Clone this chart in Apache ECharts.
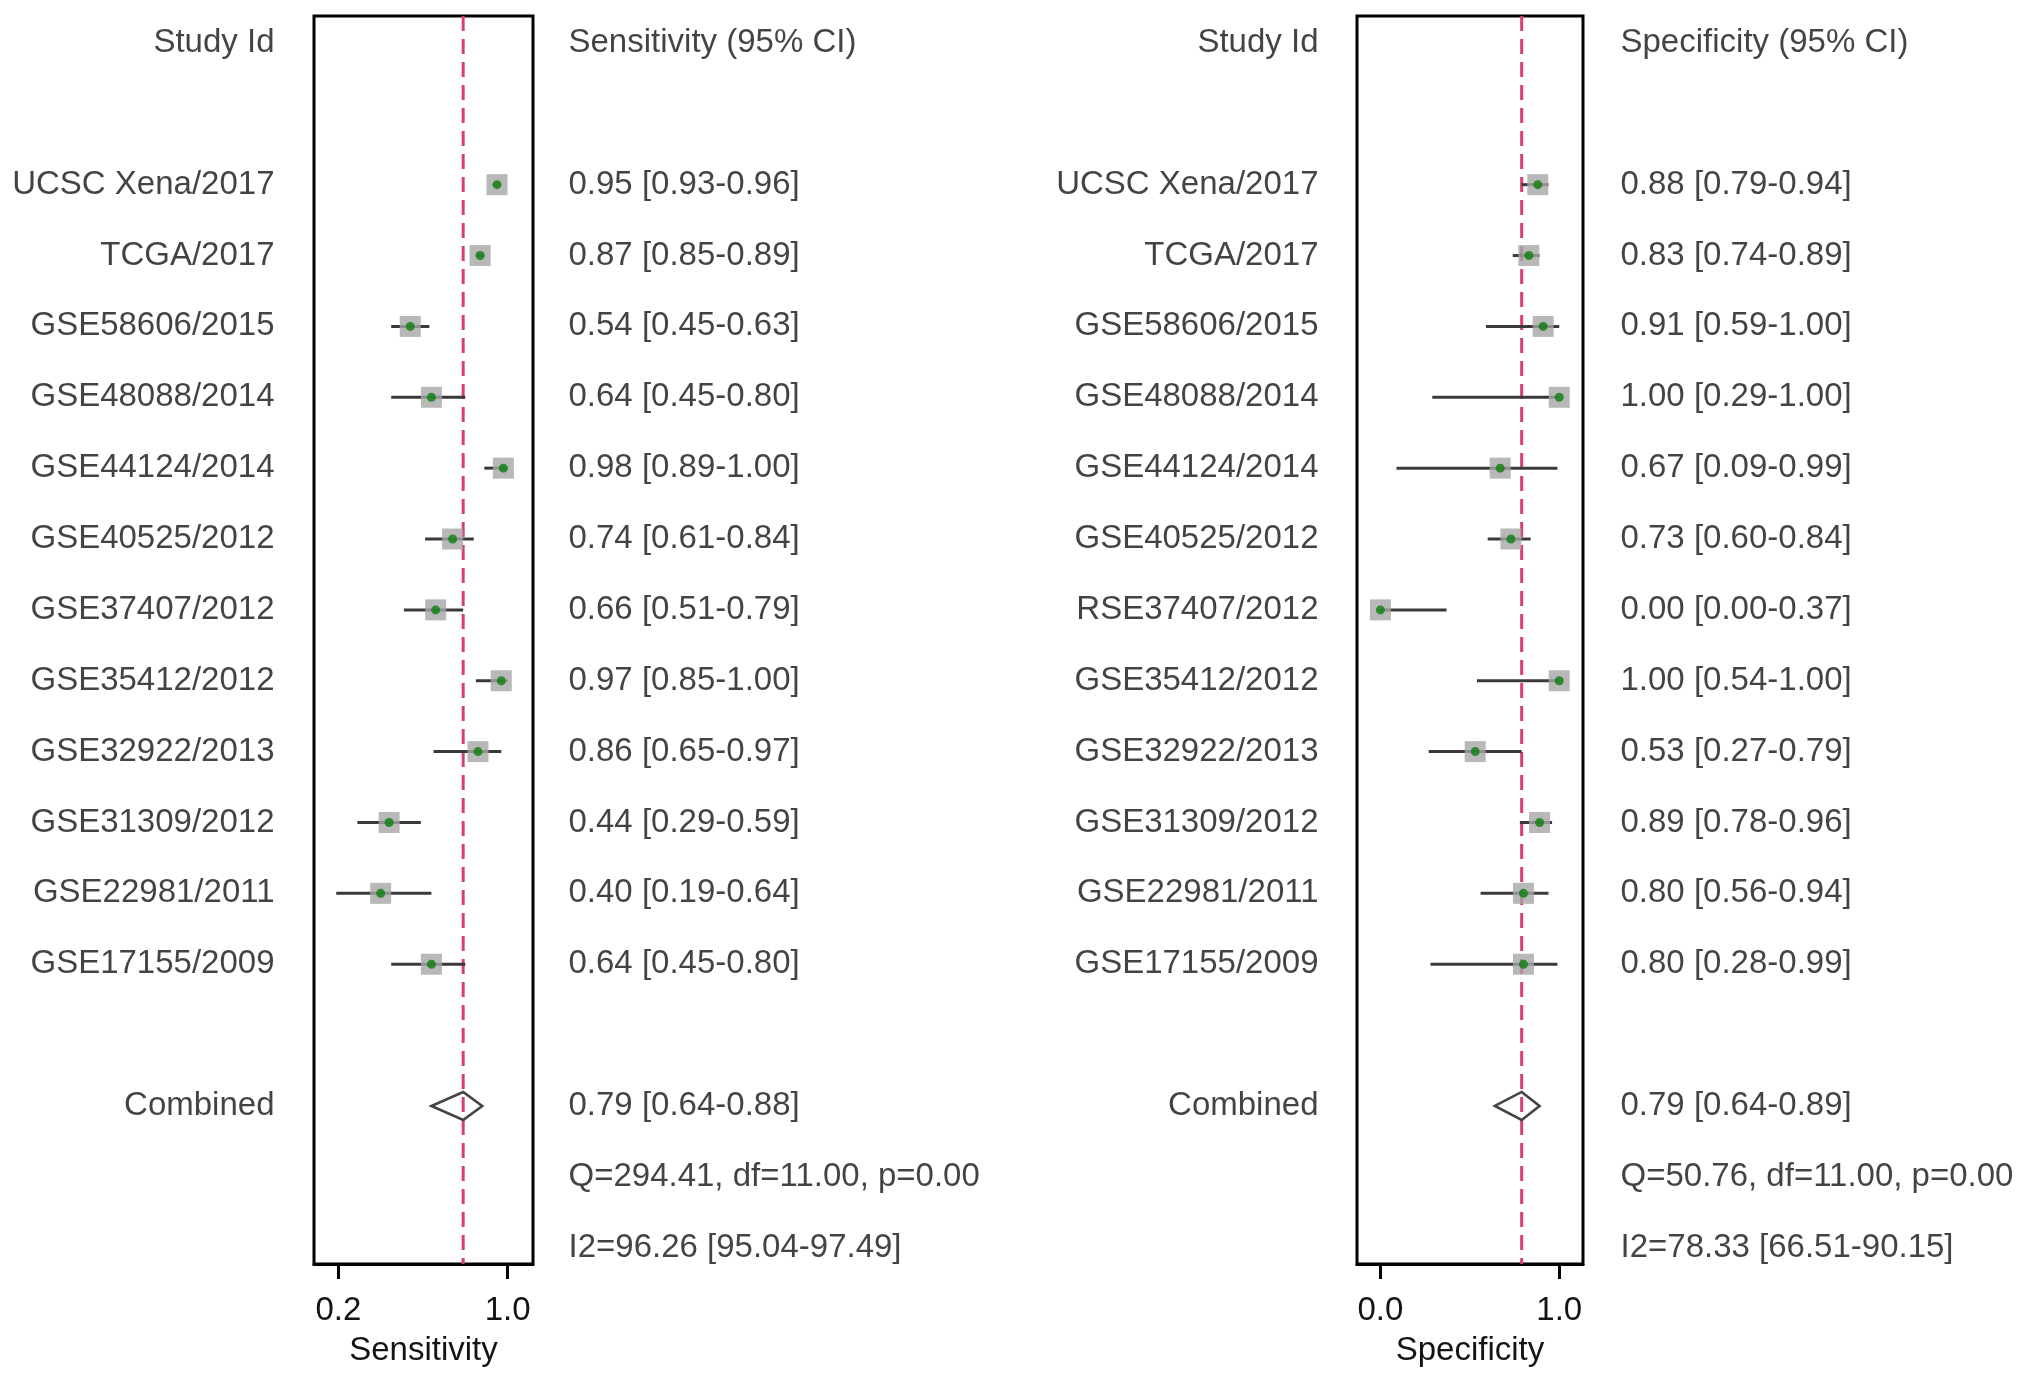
<!DOCTYPE html>
<html>
<head>
<meta charset="utf-8">
<script src="https://cdn.jsdelivr.net/npm/echarts@6.0.0/dist/echarts.min.js"></script>
<style>
html,body{margin:0;padding:0;background:#fff;}
#chart{width:2032px;height:1379px;}
</style>
</head>
<body>
<div id="chart"></div>
<script>
// ---------- data ----------
var sensStudies = ['UCSC Xena/2017','TCGA/2017','GSE58606/2015','GSE48088/2014','GSE44124/2014','GSE40525/2012','GSE37407/2012','GSE35412/2012','GSE32922/2013','GSE31309/2012','GSE22981/2011','GSE17155/2009'];
var specStudies = ['UCSC Xena/2017','TCGA/2017','GSE58606/2015','GSE48088/2014','GSE44124/2014','GSE40525/2012','RSE37407/2012','GSE35412/2012','GSE32922/2013','GSE31309/2012','GSE22981/2011','GSE17155/2009'];
var sens   = [0.95,0.87,0.54,0.64,0.98,0.74,0.66,0.97,0.86,0.44,0.40,0.64];
var sensLo = [0.93,0.85,0.45,0.45,0.89,0.61,0.51,0.85,0.65,0.29,0.19,0.45];
var sensHi = [0.96,0.89,0.63,0.80,1.00,0.84,0.79,1.00,0.97,0.59,0.64,0.80];
var spec   = [0.88,0.83,0.91,1.00,0.67,0.73,0.00,1.00,0.53,0.89,0.80,0.80];
var specLo = [0.79,0.74,0.59,0.29,0.09,0.60,0.00,0.54,0.27,0.78,0.56,0.28];
var specHi = [0.94,0.89,1.00,1.00,0.99,0.84,0.37,1.00,0.79,0.96,0.94,0.99];
var sensPooled = [0.79, 0.64, 0.88];   // estimate, lower, upper
var specPooled = [0.79, 0.64, 0.89];
var sensHet = ['Q=294.41, df=11.00, p=0.00', 'I2=96.26 [95.04-97.49]'];
var specHet = ['Q=50.76, df=11.00, p=0.00', 'I2=78.33 [66.51-90.15]'];
var sensTicks = [0.2, 1.0];
var specTicks = [0.0, 1.0];
var headers = ['Study Id', 'Sensitivity (95% CI)', 'Specificity (95% CI)'];
var axisTitles = ['Sensitivity', 'Specificity'];
var combinedLabel = 'Combined';

// ---------- layout ----------
var FONT = "'Liberation Sans', Arial, Helvetica, sans-serif";
var FS = 33;
var TXT = '#141414';
var ROW_MIN = -0.38, ROW_MAX = 17.23;
var TOP = 16, HEIGHT = 1248;
var ROW_HEAD = 0, ROW_FIRST = 2, ROW_COMB = 15, ROW_Q = 16, ROW_I2 = 17;

function fmt(v, lo, hi) { return v.toFixed(2) + ' [' + lo.toFixed(2) + '-' + hi.toFixed(2) + ']'; }

var grids = [
  {left: 0,    width: 275, top: TOP, height: HEIGHT, show: false},
  {left: 314,  width: 219, top: TOP, height: HEIGHT, show: true, borderColor: '#000', borderWidth: 3, backgroundColor: '#fff'},
  {left: 568,  width: 420, top: TOP, height: HEIGHT, show: false},
  {left: 1000, width: 319, top: TOP, height: HEIGHT, show: false},
  {left: 1357, width: 226, top: TOP, height: HEIGHT, show: true, borderColor: '#000', borderWidth: 3, backgroundColor: '#fff'},
  {left: 1620, width: 400, top: TOP, height: HEIGHT, show: false}
];

function hiddenX(i) { return {gridIndex: i, type: 'value', min: 0, max: 1, show: false}; }
function plotX(i, min, max, ticks, title) {
  return {
    gridIndex: i, type: 'value', min: min, max: max, position: 'bottom',
    axisLine: {show: true, onZero: false, lineStyle: {color: '#000', width: 3}},
    axisTick: {show: true, customValues: ticks, length: 15, inside: false, lineStyle: {color: '#000', width: 3}},
    axisLabel: {show: true, customValues: ticks, margin: 30, fontSize: FS, fontFamily: FONT, color: TXT,
      formatter: function (v) { return Number(v).toFixed(1); }},
    splitLine: {show: false},
    name: title, nameLocation: 'middle', nameGap: 70,
    nameTextStyle: {fontSize: FS, fontFamily: FONT, color: TXT}
  };
}
var xAxes = [
  hiddenX(0),
  plotX(1, 0.085, 1.12, sensTicks, axisTitles[0]),
  hiddenX(2),
  hiddenX(3),
  plotX(4, -0.131, 1.133, specTicks, axisTitles[1]),
  hiddenX(5)
];
var yAxes = [];
for (var g = 0; g < 6; g++) {
  yAxes.push({gridIndex: g, type: 'value', min: ROW_MIN, max: ROW_MAX, inverse: true, show: false});
}

function textSeries(gi, xval, pos, items) {
  return {
    type: 'scatter', xAxisIndex: gi, yAxisIndex: gi, symbolSize: 1, silent: true,
    itemStyle: {color: 'rgba(0,0,0,0)'}, clip: false, z: 10,
    label: {show: true, position: pos, distance: 0, formatter: '{b}', fontSize: FS, fontFamily: FONT, color: TXT},
    data: items.map(function (it) { return {name: it[0], value: [xval, it[1]]}; })
  };
}

function panelSeries(gi, names, est, lo, hi, pooled, het, header, labGrid, txtGrid) {
  var out = [];
  var labItems = [[headers[0], ROW_HEAD]];
  names.forEach(function (n, i) { labItems.push([n, ROW_FIRST + i]); });
  labItems.push([combinedLabel, ROW_COMB]);
  out.push(textSeries(labGrid, 1, 'left', labItems));
  var txtItems = [[header, ROW_HEAD]];
  est.forEach(function (v, i) { txtItems.push([fmt(v, lo[i], hi[i]), ROW_FIRST + i]); });
  txtItems.push([fmt(pooled[0], pooled[1], pooled[2]), ROW_COMB]);
  txtItems.push([het[0], ROW_Q]);
  txtItems.push([het[1], ROW_I2]);
  out.push(textSeries(txtGrid, 0, 'right', txtItems));
  // reference dashed line at pooled estimate
  out.push({
    type: 'line', xAxisIndex: gi, yAxisIndex: gi, symbol: 'none', silent: true, z: 1,
    lineStyle: {color: '#d63f74', width: 3, type: [15, 8]},
    data: [[pooled[0], ROW_MIN], [pooled[0], ROW_MAX]]
  });
  // CI whiskers
  out.push({
    type: 'custom', xAxisIndex: gi, yAxisIndex: gi, silent: true, z: 2,
    data: est.map(function (v, i) { return [lo[i], hi[i], ROW_FIRST + i]; }),
    renderItem: function (params, api) {
      var a = api.coord([api.value(0), api.value(2)]);
      var b = api.coord([api.value(1), api.value(2)]);
      return {type: 'line', shape: {x1: a[0], y1: a[1], x2: b[0], y2: b[1]},
        style: {stroke: '#3a3a3a', lineWidth: 3}};
    }
  });
  // squares
  out.push({
    type: 'scatter', xAxisIndex: gi, yAxisIndex: gi, symbol: 'rect', symbolSize: 21, silent: true, z: 3,
    itemStyle: {color: '#a6a6a6'},
    data: est.map(function (v, i) { return [v, ROW_FIRST + i]; })
  });
  // dots
  out.push({
    type: 'scatter', xAxisIndex: gi, yAxisIndex: gi, symbol: 'circle', symbolSize: 9, silent: true, z: 4,
    itemStyle: {color: '#0b7d0e'},
    data: est.map(function (v, i) { return [v, ROW_FIRST + i]; })
  });
  // pooled diamond
  out.push({
    type: 'custom', xAxisIndex: gi, yAxisIndex: gi, silent: true, z: 5,
    data: [[pooled[1], pooled[2], pooled[0], ROW_COMB]],
    renderItem: function (params, api) {
      var l = api.coord([api.value(0), api.value(3)]);
      var r = api.coord([api.value(1), api.value(3)]);
      var c = api.coord([api.value(2), api.value(3)]);
      var h = 14;
      return {type: 'polygon', shape: {points: [[l[0], l[1]], [c[0], c[1] - h], [r[0], r[1]], [c[0], c[1] + h]]},
        style: {stroke: '#444', fill: 'rgba(255,255,255,0)', lineWidth: 2.6}};
    }
  });
  return out;
}

var series = [].concat(
  panelSeries(1, sensStudies, sens, sensLo, sensHi, sensPooled, sensHet, headers[1], 0, 2),
  panelSeries(4, specStudies, spec, specLo, specHi, specPooled, specHet, headers[2], 3, 5)
);

var chart = echarts.init(document.getElementById('chart'), null, {renderer: 'canvas'});
chart.setOption({
  backgroundColor: '#fff',
  animation: false,
  grid: grids,
  xAxis: xAxes,
  yAxis: yAxes,
  series: series
});
</script>
</body>
</html>
